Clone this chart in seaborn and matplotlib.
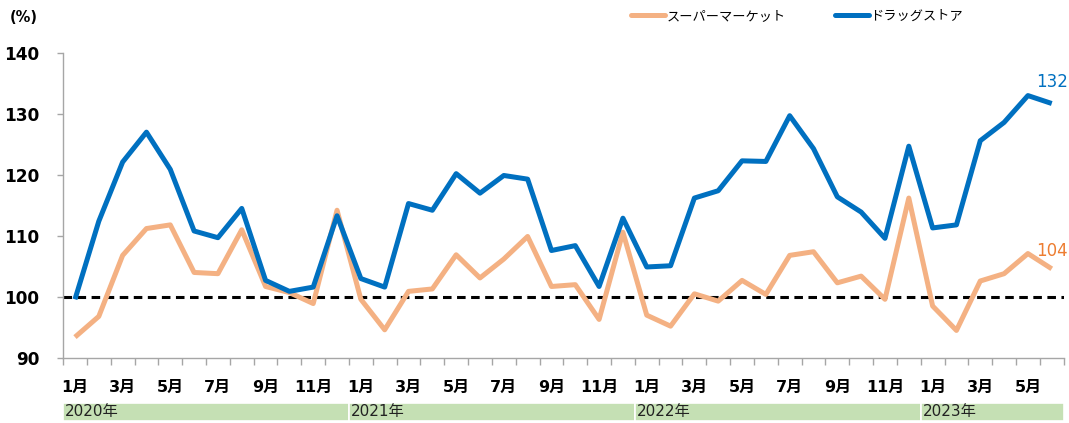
import numpy as np
import pandas as pd
import matplotlib
matplotlib.use("Agg")
import matplotlib.pyplot as plt
import seaborn as sns
from matplotlib.transforms import blended_transform_factory

# ---------------------------------------------------------------------------
# Data (Jan 2020 - Jun 2023, index, %)
# ---------------------------------------------------------------------------
years = ["2020年", "2021年", "2022年", "2023年"]
months_per_year = [12, 12, 12, 6]

supermarket = [
    93.4, 96.8, 106.8, 111.2, 111.8, 104.0, 103.8, 111.0, 101.7, 100.7, 98.9, 114.2,
    99.6, 94.6, 100.9, 101.3, 106.9, 103.1, 106.2, 109.9, 101.7, 102.0, 96.3, 110.6,
    97.0, 95.2, 100.5, 99.3, 102.7, 100.4, 106.8, 107.4, 102.3, 103.4, 99.6, 116.2,
    98.5, 94.5, 102.6, 103.8, 107.1, 104.6,
]
drugstore = [
    99.6, 112.4, 122.1, 127.0, 120.9, 110.8, 109.7, 114.5, 102.7, 100.9, 101.6, 113.3,
    103.0, 101.6, 115.3, 114.2, 120.2, 117.0, 119.9, 119.3, 107.6, 108.4, 101.7, 112.9,
    104.9, 105.1, 116.2, 117.4, 122.3, 122.2, 129.7, 124.3, 116.4, 113.9, 109.6, 124.7,
    111.3, 111.8, 125.6, 128.6, 133.0, 131.7,
]
series_names = ["スーパーマーケット", "ドラッグストア"]
end_labels = ["104", "132"]

BLUE = "#0070C0"
ORANGE = "#F4B183"
ORANGE_TXT = "#ED7D31"
GREEN = "#C5E0B4"

sns.set_theme(style="white", rc={"text.color": "black",
                                 "xtick.color": "black",
                                 "ytick.color": "black"})
plt.rcParams["font.family"] = ["DejaVu Sans", "Noto Sans CJK JP"]

month_nums = [m + 1 for n in months_per_year for m in range(n)]
df = pd.DataFrame({
    "idx": np.arange(len(supermarket)),
    series_names[0]: supermarket,
    series_names[1]: drugstore,
})
long = df.melt(id_vars="idx", var_name="series", value_name="value")

fig = plt.figure(figsize=(10.69, 4.23), dpi=100)
ax = fig.add_axes([0.059, 0.154, 0.936, 0.721])

sns.lineplot(data=long, x="idx", y="value", hue="series",
             hue_order=series_names, palette=[ORANGE, BLUE],
             linewidth=3.6, ax=ax, legend=False)
for ln in ax.lines:
    ln.set_solid_capstyle("butt")

ax.axhline(100, color="black", lw=2.2, dashes=(2.8, 1.8), zorder=1)

n = len(supermarket)
ax.set_xlim(-0.5, n - 0.5)
ax.set_ylim(90, 140)
ax.set_yticks(range(90, 141, 10))
ax.set_yticklabels([str(v) for v in range(90, 141, 10)], fontsize=12.2,
                   fontweight="bold")
ax.tick_params(axis="y", length=4, width=1, color="#A6A6A6", labelcolor="black",
               pad=13, left=True)

xt = [i for i in range(n) if month_nums[i] % 2 == 1]
ax.set_xticks(xt)
ax.set_xticklabels([f"{month_nums[i]}月" for i in xt], fontsize=11.5,
                   fontweight="bold")
ax.set_xticks(np.arange(-0.5, n, 1), minor=True)
ax.tick_params(axis="x", which="major", length=0, pad=16, labelcolor="black")
ax.tick_params(axis="x", which="minor", length=5, width=1, color="#A6A6A6",
               bottom=True)
ax.set_xlabel("")
ax.set_ylabel("")

for s in ["top", "right"]:
    ax.spines[s].set_visible(False)
for s in ["left", "bottom"]:
    ax.spines[s].set_color("#A6A6A6")
    ax.spines[s].set_linewidth(1)

# year bands under the month labels
tr = blended_transform_factory(ax.transData, ax.transAxes)
start = -0.5
for yr, cnt in zip(years, months_per_year):
    ax.add_patch(plt.Rectangle((start, -0.207), cnt, 0.06, transform=tr,
                               facecolor=GREEN, edgecolor="white", lw=1.2,
                               clip_on=False))
    ax.text(start + 0.08, -0.177, yr, transform=tr, ha="left", va="center",
            fontsize=11, color="#222222")
    start += cnt

# end-point labels
ax.text(n - 1, supermarket[-1] + 3.0, end_labels[0], ha="center",
        va="center", color=ORANGE_TXT, fontsize=12)
ax.text(n - 1, drugstore[-1] + 3.6, end_labels[1], ha="center",
        va="center", color=BLUE, fontsize=12)

fig.text(0.009, 0.958, "(%)", fontsize=10.5, fontweight="bold", va="center",
         color="black")

handles = [plt.Line2D([], [], color=c, lw=3.6) for c in [ORANGE, BLUE]]
fig.legend(handles, series_names, loc="center left",
           bbox_to_anchor=(0.579, 0.962), ncol=2, frameon=False,
           fontsize=9.5, handlelength=2.6, handletextpad=0.1,
           columnspacing=3.7)

fig.savefig("out.png", dpi=100)
